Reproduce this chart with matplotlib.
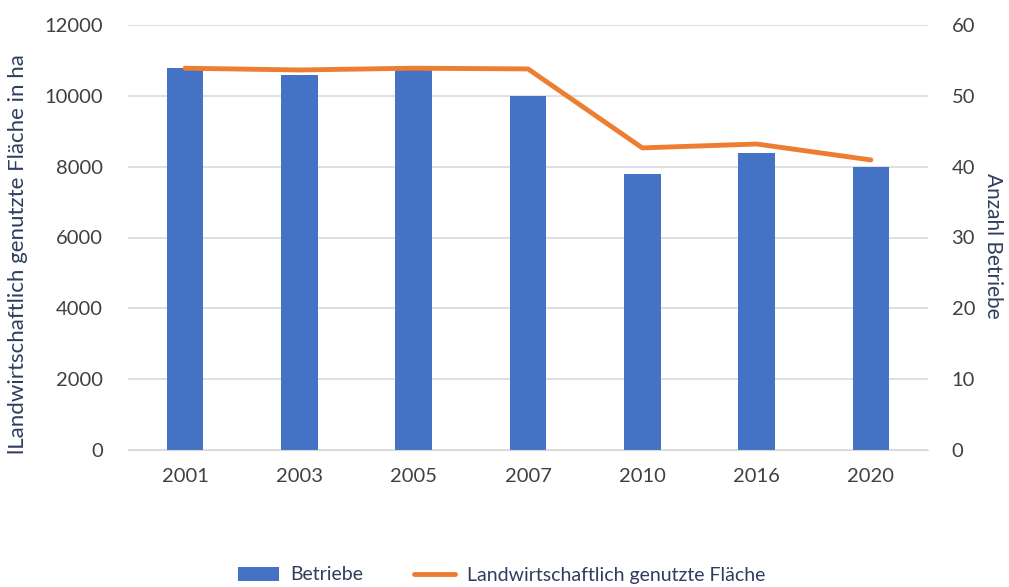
import matplotlib
matplotlib.use("Agg")
import matplotlib.pyplot as plt
import numpy as np

years = ["2001", "2003", "2005", "2007", "2010", "2016", "2020"]
betriebe = [54, 53, 54, 50, 39, 42, 40]
flaeche = [10780, 10730, 10780, 10760, 8530, 8640, 8190]

plt.rcParams['font.family'] = ['Lato', 'DejaVu Sans']

fig = plt.figure(figsize=(10.09, 5.87), dpi=100)
ax = fig.add_axes([128/1009, 1-450/587, 800/1009, 425/587])
ax2 = ax.twinx()

x = np.arange(len(years))
bar_col = "#4472C4"
line_col = "#ED7D31"
txt_col = "#404040"
title_col = "#2F3D5E"

ax.set_zorder(ax2.get_zorder() + 1)
ax.patch.set_visible(False)

bars = ax2.bar(x, betriebe, width=0.32, color=bar_col, label="Betriebe", zorder=2)
line, = ax.plot(x, flaeche, color=line_col, lw=3.5, solid_capstyle='round', label="Landwirtschaftlich genutzte Fläche", zorder=3)

ax.set_xlim(-0.5, len(years) - 0.5)
ax.set_ylim(0, 12000)
ax2.set_ylim(0, 60)
ax.set_yticks(np.arange(0, 12001, 2000))
ax2.set_yticks(np.arange(0, 61, 10))
ax.set_xticks(x)
ax.set_xticklabels(years)

ax2.grid(axis='y', color='#D9D9D9', lw=1.2, zorder=0)
ax2.set_axisbelow(True)
for a in (ax, ax2):
    for s in a.spines.values():
        s.set_visible(False)
    a.tick_params(length=0, labelsize=14.5, colors=txt_col)
ax.spines['bottom'].set_visible(True)
ax.spines['bottom'].set_color('#D9D9D9')
ax.tick_params(axis='y', pad=18)
ax.tick_params(axis='x', pad=13)
ax2.tick_params(axis='y', pad=17)

ax.set_ylabel("lLandwirtschaftlich genutzte Fläche in ha", fontsize=16, color=title_col, va='center')
ax.yaxis.set_label_coords(-0.138, 0.46)
ax2.set_ylabel("Anzahl Betriebe", fontsize=15, color=title_col, rotation=270, va='center')
ax2.yaxis.set_label_coords(1.081, 0.48)

fig.legend([bars, line], ["Betriebe", "Landwirtschaftlich genutzte Fläche"],
           loc='center', bbox_to_anchor=(0.497, 1-575/587), ncol=2, frameon=False,
           fontsize=14, handlelength=2.1, handletextpad=0.6, columnspacing=2.6, labelcolor=title_col)

fig.savefig("out.png", dpi=100)
